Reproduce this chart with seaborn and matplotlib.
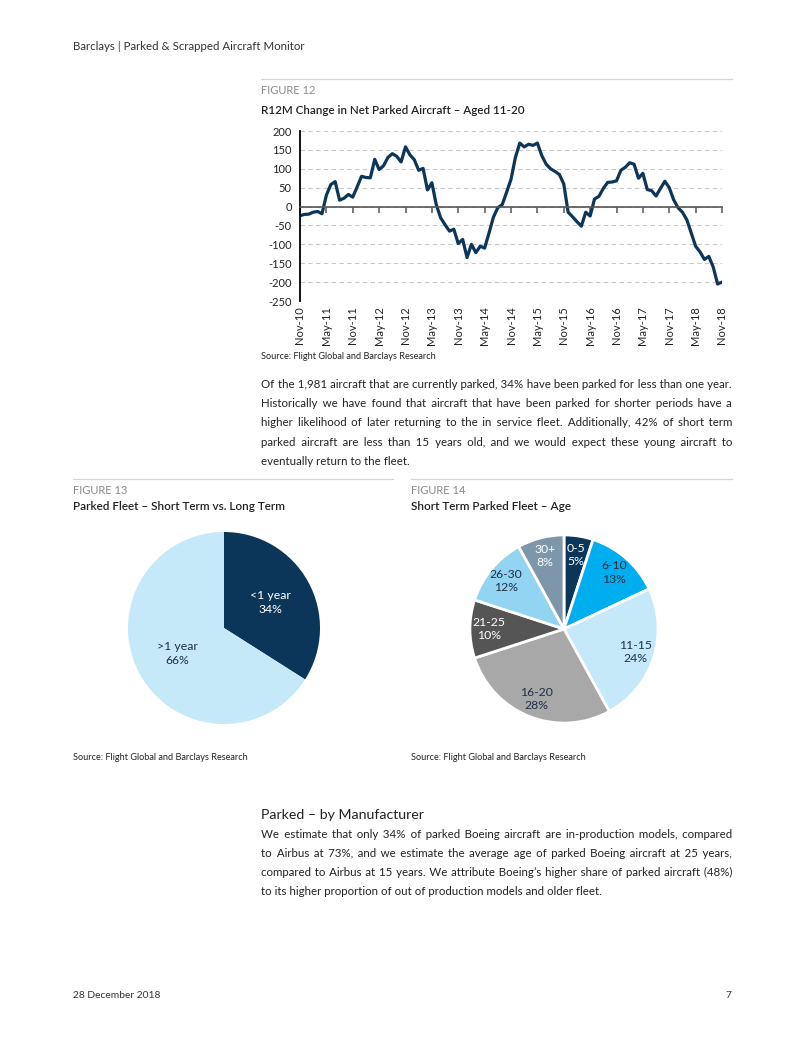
import matplotlib
matplotlib.use("Agg")
import numpy as np
import pandas as pd
import matplotlib.pyplot as plt
import seaborn as sns

W, H = 802, 1037

# R12M change in net parked aircraft, aged 11-20 (monthly, Nov-10 .. Nov-18)
months = pd.date_range("2010-11-01", "2018-11-01", freq="MS")
net_parked_change = [
    -24, -21, -20, -15, -13, -19,            # Nov-10 .. Apr-11
    30, 58, 66, 17, 22, 32,                  # May-11 .. Oct-11
    25, 52, 80, 77, 76, 125,                 # Nov-11 .. Apr-12
    98, 108, 130, 140, 133, 118,             # May-12 .. Oct-12
    158, 137, 124, 96, 101, 44,              # Nov-12 .. Apr-13
    63, 5, -30, -48, -65, -60,               # May-13 .. Oct-13
    -98, -87, -135, -100, -122, -105,        # Nov-13 .. Apr-14
    -110, -70, -28, -3, 5, 38,               # May-14 .. Oct-14
    72, 130, 168, 158, 165, 162,             # Nov-14 .. Apr-15
    168, 135, 112, 100, 93, 85,              # May-15 .. Oct-15
    60, -15, -27, -40, -52, -15,             # Nov-15 .. Apr-16
    -25, 20, 27, 48, 64, 65,                 # May-16 .. Oct-16
    68, 96, 104, 116, 112, 75,               # Nov-16 .. Apr-17
    88, 45, 42, 28, 48, 67,                  # May-17 .. Oct-17
    50, 18, -3, -15, -35, -70,               # Nov-17 .. Apr-18
    -105, -120, -140, -132, -160, -205,      # May-18 .. Oct-18
    -200,                                    # Nov-18
]

term_labels = ["<1 year", ">1 year"]
term_share = [34, 66]

age_labels = ["0-5", "6-10", "11-15", "16-20", "21-25", "26-30", "30+"]
age_share = [5, 13, 24, 28, 10, 12, 8]

NAVY = "#0c3659"
TEXT = "#222222"
GREY_TXT = "#8a8a8a"
RULE = "#d4d4d4"
BODY = 8.25

sns.set_theme(style="white")
plt.rcParams["font.family"] = ["Lato", "DejaVu Sans"]
plt.rcParams["axes.unicode_minus"] = False

fig = plt.figure(figsize=(W / 100, H / 100), dpi=100)
fig.patch.set_facecolor("white")
renderer = fig.canvas.get_renderer()


def fx(x):
    return x / W


def fy(y):
    return 1 - y / H


def rect(l, t, r, b):
    return [fx(l), fy(b), (r - l) / W, (b - t) / H]


def txt(x, y, s, size=BODY, color=TEXT, **kw):
    kw.setdefault("va", "center")
    return fig.text(fx(x), fy(y), s, fontsize=size, color=color, **kw)


def hline(x0, x1, y):
    fig.add_artist(plt.Line2D([fx(x0), fx(x1)], [fy(y), fy(y)], color=RULE, lw=0.9))


def text_width(s, size):
    t = txt(0, 0, s, size=size)
    w = t.get_window_extent(renderer=renderer).width
    t.remove()
    return w


def narrow_space(size):
    # smallest usable space glyph for padding justified lines
    best = (" ", text_width("x" + " " * 20 + "x", size) / 20)
    for ch in ["\u200a", "\u2009", "\u2006", "\u2005"]:
        w = (text_width("x" + ch * 20 + "x", size) - text_width("xx", size)) / 20
        if 0.4 < w < best[1]:
            best = (ch, w)
    return best


def justify_line(line, y, x0=261, x1=732, size=BODY):
    # one text per line keeps a common baseline; pad the gaps with narrow spaces
    ch, cw = narrow_space(size)
    words = line.split(" ")
    gaps = len(words) - 1
    extra = (x1 - x0) - text_width(line, size)
    n = max(0, int(round(extra / cw)))
    base, rem = divmod(n, gaps)
    picks = set(int(i * gaps / rem) for i in range(rem)) if rem else set()
    out = words[0]
    for i, w in enumerate(words[1:]):
        out += " " + ch * (base + (1 if i in picks else 0)) + w
    txt(x0, y, out, size=size, va="baseline")


def paragraph(lines, y0, step):
    # y0 is the baseline of the first line
    for i, line in enumerate(lines):
        y = y0 + i * step
        if i == len(lines) - 1:
            txt(261, y, line, va="baseline")
        else:
            justify_line(line, y)


# page header / footer
txt(73, 46, "Barclays | Parked & Scrapped Aircraft Monitor", size=8.3, color="#333333")
txt(73, 995, "28 December 2018", size=7.4, color="#333333")
txt(731, 995, "7", size=7.4, color="#333333", ha="right")

# ---- Figure 12: line chart
hline(261, 732, 79)
txt(261, 91, "FIGURE 12", size=8.0, color=GREY_TXT)
txt(261, 110, "R12M Change in Net Parked Aircraft \u2013 Aged 11-20", size=8.4, color=TEXT,
    fontweight="semibold")

ax = fig.add_axes(rect(300, 131, 722, 301))
df = pd.DataFrame({"month": np.arange(len(months)), "value": net_parked_change})
sns.lineplot(data=df, x="month", y="value", ax=ax, color=NAVY, lw=2.3)
ax.set_xlim(0, len(months) - 1)
ax.set_ylim(-250, 200)
ax.set_yticks(range(-250, 201, 50))
ax.yaxis.grid(True, ls=(0, (4, 3)), color="#c8c8c8", lw=0.8)
ax.xaxis.grid(False)
ax.set_xlabel("")
ax.set_ylabel("")
ax.spines["top"].set_visible(False)
ax.spines["right"].set_visible(False)
ax.spines["left"].set_color("black")
ax.spines["left"].set_linewidth(1.3)
ax.spines["bottom"].set_position(("data", 0))
ax.spines["bottom"].set_color("#555555")
ax.spines["bottom"].set_linewidth(1.2)
ticks = list(range(0, len(months), 6))
ax.set_xticks(ticks)
ax.tick_params(axis="x", direction="out", length=4, width=1.1, color="#555555",
               bottom=True, labelbottom=False)
ax.tick_params(axis="y", length=0, pad=6, labelsize=8.0, labelcolor=TEXT)
sec = ax.secondary_xaxis("bottom")
sec.set_xticks(ticks, labels=[months[i].strftime("%b-%y") for i in ticks], rotation=90)
sec.tick_params(length=0, labelsize=8.0, pad=4, labelcolor=TEXT)
sec.spines["bottom"].set_visible(False)

txt(261, 357, "Source: Flight Global and Barclays Research", size=6.6, color=TEXT)

paragraph([
    "Of the 1,981 aircraft that are currently parked, 34% have been parked for less than one year.",
    "Historically we have found that aircraft that have been parked for shorter periods have a",
    "higher likelihood of later returning to the in service fleet. Additionally, 42% of short term",
    "parked aircraft are less than 15 years old, and we would expect these young aircraft to",
    "eventually return to the fleet.",
], 388, 19.2)

# ---- Figure 13: short vs long term
hline(73, 393, 479)
txt(73, 491, "FIGURE 13", size=8.0, color=GREY_TXT)
txt(73, 507, "Parked Fleet \u2013 Short Term vs. Long Term", size=8.5, fontweight="semibold")

ax1 = fig.add_axes(rect(224 - 96, 628 - 96, 224 + 96, 628 + 96))
_, _, auto1 = ax1.pie(term_share, colors=[NAVY, "#c5e9f8"], startangle=90, counterclock=False,
                      autopct="%1.0f%%", pctdistance=0.55,
                      wedgeprops=dict(linewidth=0),
                      textprops=dict(fontsize=8.8))
for t, lab, c in zip(auto1, term_labels, ["white", "#1f3046"]):
    t.set_text(f"{lab}\n{t.get_text()}")
    t.set_color(c)
    t.set_linespacing(1.25)
ax1.set_xlim(-1, 1)
ax1.set_ylim(-1, 1)
ax1.set_aspect("equal")

txt(73, 757, "Source: Flight Global and Barclays Research", size=6.6)

# ---- Figure 14: short term fleet by age
hline(411, 732, 479)
txt(411, 491, "FIGURE 14", size=8.0, color=GREY_TXT)
txt(411, 507, "Short Term Parked Fleet \u2013 Age", size=8.5, fontweight="semibold")

age_colors = [NAVY, "#00aeef", "#c5e9f8", "#a8a8a8", "#555555", "#92d4f2", "#7e96aa"]
age_text = ["white", "#1f3046", "#1f3046", "#1f3046", "white", "#1f3046", "white"]
ax2 = fig.add_axes(rect(564 - 95, 629 - 95, 564 + 95, 629 + 95))
_, _, auto2 = ax2.pie(age_share, colors=age_colors, startangle=90, counterclock=False,
                      autopct="%1.0f%%", pctdistance=0.8,
                      wedgeprops=dict(linewidth=2, edgecolor="white"),
                      textprops=dict(fontsize=8.8))
for t, lab, c in zip(auto2, age_labels, age_text):
    t.set_text(f"{lab}\n{t.get_text()}")
    t.set_color(c)
    t.set_linespacing(1.25)
ax2.set_xlim(-1.01, 1.01)
ax2.set_ylim(-1.01, 1.01)
ax2.set_aspect("equal")

txt(411, 757, "Source: Flight Global and Barclays Research", size=6.6)

# ---- Parked by manufacturer
txt(261, 815, "Parked \u2013 by Manufacturer", size=10.2, color=TEXT)
paragraph([
    "We estimate that only 34% of parked Boeing aircraft are in-production models, compared",
    "to Airbus at 73%, and we estimate the average age of parked Boeing aircraft at 25 years,",
    "compared to Airbus at 15 years. We attribute Boeing\u2019s higher share of parked aircraft (48%)",
    "to its higher proportion of out of production models and older fleet.",
], 838, 19.0)

fig.savefig("out.png", dpi=100, facecolor="white")
